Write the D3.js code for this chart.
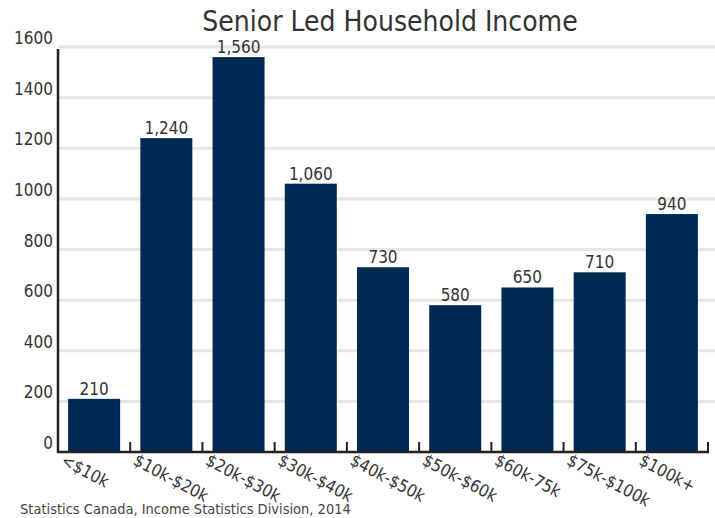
<!DOCTYPE html>
<html><head><meta charset="utf-8">
<script src="https://cdn.jsdelivr.net/npm/d3@7"></script>
<style>
body{margin:0;background:#fff;}
text{font-family:"DejaVu Sans Condensed","Open Sans",sans-serif;fill:#333;}
</style></head>
<body><svg id="chart" width="715" height="518"></svg>
<script>
const categories = ["<$10k","$10k-$20k","$20k-$30k","$30k-$40k","$40k-$50k","$50k-$60k","$60k-75k","$75k-$100k","$100k+"];
const values = [210,1240,1560,1060,730,580,650,710,940];
const yTicks = [0,200,400,600,800,1000,1200,1400,1600];
const title = "Senior Led Household Income";
const source = "Statistics Canada, Income Statistics Division, 2014";

(function(){
const svg = d3.select("#chart");
const mLeft = 58, mRight = 708, mTop = 47, mBottom = 452;

const x = d3.scaleBand().domain(categories).range([mLeft, mRight]).paddingInner(0.28).paddingOuter(0.14);
const y = d3.scaleLinear().domain([0,1600]).range([mBottom, mTop]);

svg.append("g").selectAll("line").data(yTicks.filter(d=>d>0)).join("line")
  .attr("x1", mLeft).attr("x2", 715).attr("y1", d=>y(d)).attr("y2", d=>y(d))
  .attr("stroke", "#e6e6e6").attr("stroke-width", 3);

svg.append("g").selectAll("text").data(yTicks).join("text")
  .attr("x", mLeft-5).attr("y", d=>y(d)-3).attr("text-anchor","end")
  .style("font-size","17px").text(d=>d);

svg.append("g").selectAll("rect").data(values).join("rect")
  .attr("x",(d,i)=>x(categories[i])).attr("width",x.bandwidth())
  .attr("y",d=>y(d)).attr("height",d=>mBottom-y(d)).attr("fill","#002a54");

svg.append("g").selectAll("text").data(values).join("text")
  .attr("x",(d,i)=>x(categories[i])+x.bandwidth()/2).attr("y",d=>y(d)-4)
  .attr("text-anchor","middle").style("font-size","17px").text(d=>d3.format(",")(d));

const step = x.step();
svg.append("line").attr("x1",mLeft).attr("x2",mLeft).attr("y1",mTop+2).attr("y2",mBottom+1)
  .attr("stroke","#222").attr("stroke-width",2.5);
svg.append("line").attr("x1",mLeft-1).attr("x2",mRight+1).attr("y1",mBottom).attr("y2",mBottom)
  .attr("stroke","#222").attr("stroke-width",2.5);
const bounds = d3.range(categories.length+1).map(i=>mLeft+i*step);
svg.append("g").selectAll("line").data(bounds).join("line")
  .attr("x1",d=>d).attr("x2",d=>d).attr("y1",mBottom-10).attr("y2",mBottom)
  .attr("stroke","#222").attr("stroke-width",2);

svg.append("g").selectAll("text").data(categories).join("text")
  .attr("transform",(d,i)=>`translate(${x(d)-8},${mBottom+12}) rotate(28)`)
  .attr("text-anchor","start").style("font-size","17px").text(d=>d);

svg.append("text").attr("x",390).attr("y",31).attr("text-anchor","middle")
  .style("font-size","28px").text(title);

svg.append("text").attr("x",20).attr("y",514).style("font-size","14.5px").style("fill","#444").text(source);
})();
</script></body></html>
